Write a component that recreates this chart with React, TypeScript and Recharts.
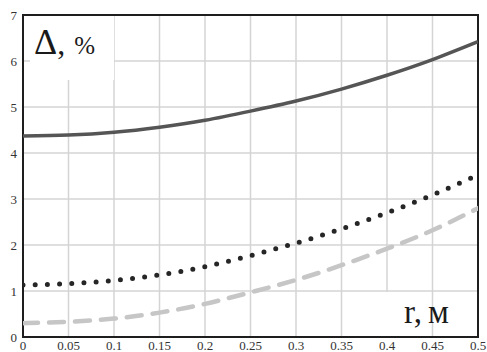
import React from "react"
import {
  CartesianGrid,
  Line,
  LineChart,
  ReferenceArea,
  XAxis,
  YAxis,
} from "recharts"

const rValues = [0, 0.05, 0.1, 0.15, 0.2, 0.25, 0.3, 0.35, 0.4, 0.45, 0.5]
const solidSeries = [4.37, 4.39, 4.45, 4.56, 4.71, 4.91, 5.13, 5.39, 5.69, 6.03, 6.42]
const dottedSeries = [1.13, 1.16, 1.23, 1.35, 1.53, 1.77, 2.04, 2.35, 2.7, 3.09, 3.52]
const dashedSeries = [0.3, 0.33, 0.4, 0.53, 0.72, 0.97, 1.24, 1.56, 1.92, 2.32, 2.8]

const xTicks = [0, 0.05, 0.1, 0.15, 0.2, 0.25, 0.3, 0.35, 0.4, 0.45, 0.5]
const yTicks = [0, 1, 2, 3, 4, 5, 6, 7]

const data = rValues.map((r, i) => ({
  r,
  solid: solidSeries[i],
  dotted: dottedSeries[i],
  dashed: dashedSeries[i],
}))

const serif = "Liberation Serif, Times New Roman, serif"

const Tick = ({ x, y, payload, textAnchor, dy }: any) => (
  <text
    x={x}
    y={y}
    dy={dy}
    textAnchor={textAnchor}
    fill="#333"
    fontSize={13}
    style={{ fontFamily: serif }}
  >
    {String(payload.value)}
  </text>
)

export default function App() {
  return (
    <div
      style={{
        position: "absolute",
        left: 0,
        top: 0,
        width: 487,
        height: 352,
        background: "#fff",
        fontFamily: serif,
      }}
    >
      <LineChart
        width={487}
        height={352}
        data={data}
        margin={{ top: 15, right: 9, bottom: 0, left: 0 }}
        style={{ fontFamily: serif }}
      >
        <CartesianGrid stroke="#d4d4d4" strokeWidth={1.5} />
        <XAxis
          dataKey="r"
          type="number"
          domain={[0, 0.5]}
          ticks={xTicks}
          interval={0}
          height={15}
          tickSize={0}
          tickMargin={4}
          tickLine={false}
          axisLine={false}
          tick={(p: any) => <Tick {...p} dy="0.71em" />}
          allowDataOverflow
        />
        <YAxis
          type="number"
          domain={[0, 7]}
          ticks={yTicks}
          interval={0}
          width={23}
          tickSize={0}
          tickMargin={6}
          tickLine={false}
          axisLine={false}
          tick={(p: any) => <Tick {...p} dy="0.35em" />}
        />
        <Line
          type="natural"
          dataKey="dashed"
          stroke="#c6c6c6"
          strokeWidth={4.5}
          strokeDasharray="15 11"
          strokeLinecap="round"
          dot={false}
          isAnimationActive={false}
        />
        <Line
          type="natural"
          dataKey="dotted"
          stroke="#262626"
          strokeWidth={5}
          strokeDasharray="0 12.2"
          strokeLinecap="round"
          dot={false}
          isAnimationActive={false}
        />
        <Line
          type="natural"
          dataKey="solid"
          stroke="#555555"
          strokeWidth={3.5}
          dot={false}
          isAnimationActive={false}
        />
        <ReferenceArea
          x1={0}
          x2={0.5}
          y1={0}
          y2={7}
          fill="none"
          stroke="#1e1e1e"
          strokeWidth={2}
          ifOverflow="visible"
        />
      </LineChart>
      {/* axis captions with white backing, as in the original */}
      <svg
        width={487}
        height={352}
        style={{ position: "absolute", left: 0, top: 0, pointerEvents: "none" }}
      >
        <rect x={30} y={16} width={84} height={64} fill="#fff" />
        <text x={34} y={54} style={{ fontFamily: serif }} fill="#1a1a1a">
          <tspan fontSize={36}>Δ</tspan>
          <tspan fontSize={32}>,</tspan>
          <tspan dx={9} fontSize={25}>%</tspan>
        </text>
        <rect x={384} y={292} width={47} height={44} fill="#fff" />
        <text x={404} y={323} style={{ fontFamily: serif }} fill="#1a1a1a" fontSize={33}>
          r,<tspan dx={6}>м</tspan>
        </text>
      </svg>
    </div>
  )
}
